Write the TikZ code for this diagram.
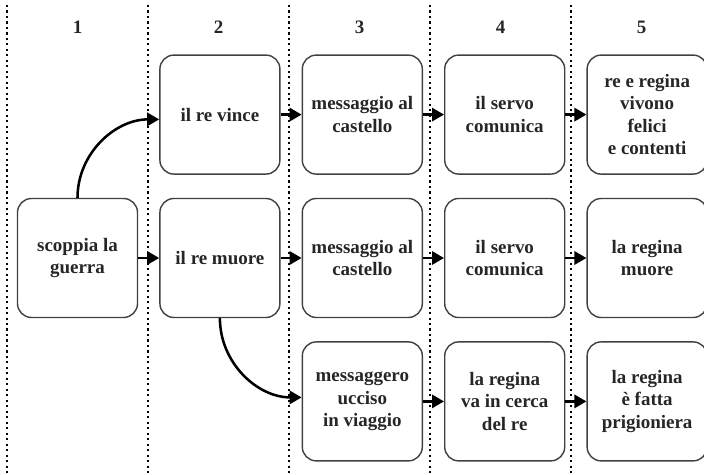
\documentclass[tikz,border=0pt]{standalone}
\usepackage{fontspec}
\setmainfont{Liberation Serif}
\usepackage{tikz}
\usetikzlibrary{arrows.meta, positioning}

\begin{document}
\begin{tikzpicture}[
  box/.style={draw=black!75, line width=1pt, rounded corners=0.35cm, minimum width=3cm, minimum height=2.975cm, align=center, text=black!85, font=\bfseries\fontsize{13.5}{15.8}\selectfont},
  head/.style={text=black!85, font=\bfseries\fontsize{13.5}{15.8}\selectfont},
  arr/.style={-{Triangle[length=0.3cm, width=0.33cm]}, line width=1.8pt},
  sep/.style={line width=1.5pt, dash pattern=on 1.5pt off 2.4pt},
  node distance=0.575cm and 0.525cm
]
\useasboundingbox (0,0) rectangle (17.6,-11.875);

% column separators and numbers
\foreach \i in {0,...,4}
  \draw[sep] ({0.175+3.525*\i},-0.125) -- ({0.175+3.525*\i},-11.875);
\foreach \i in {1,...,5}
  \node[head] (h\i) at ({1.9375+3.525*(\i-1)},-0.675) {\i};

% middle row
\node[box] (guerra) at (1.9375,-6.45) {scoppia la\\guerra};
\node[box, right=of guerra] (muore) {il re muore};
\node[box, right=of muore] (castB) {messaggio al\\castello};
\node[box, right=of castB] (servoB) {il servo\\comunica};
\node[box, right=of servoB] (reginaB) {la regina\\muore};

% top row
\node[box, above=of muore] (vince) {il re vince};
\node[box, right=of vince] (castA) {messaggio al\\castello};
\node[box, right=of castA] (servoA) {il servo\\comunica};
\node[box, right=of servoA] (felici) {re e regina\\vivono\\felici\\e contenti};

% bottom row
\node[box, below=of castB] (ucciso) {messaggero\\ucciso\\in viaggio};
\node[box, right=of ucciso] (cerca) {la regina\\va in cerca\\del re};
\node[box, right=of cerca] (prigion) {la regina\\è fatta\\prigioniera};

\draw[arr] (guerra.north) to[out=90, in=180] ([yshift=-0.12cm]vince.west);
\draw[arr] (muore.south) to[out=-90, in=180] ([yshift=0.1cm]ucciso.west);

\draw[arr] (vince) -- (castA);
\draw[arr] (castA) -- (servoA);
\draw[arr] (servoA) -- (felici);

\draw[arr] (guerra) -- (muore);
\draw[arr] (muore) -- (castB);
\draw[arr] (castB) -- (servoB);
\draw[arr] (servoB) -- (reginaB);

\draw[arr] (ucciso) -- (cerca);
\draw[arr] (cerca) -- (prigion);
\end{tikzpicture}
\end{document}
